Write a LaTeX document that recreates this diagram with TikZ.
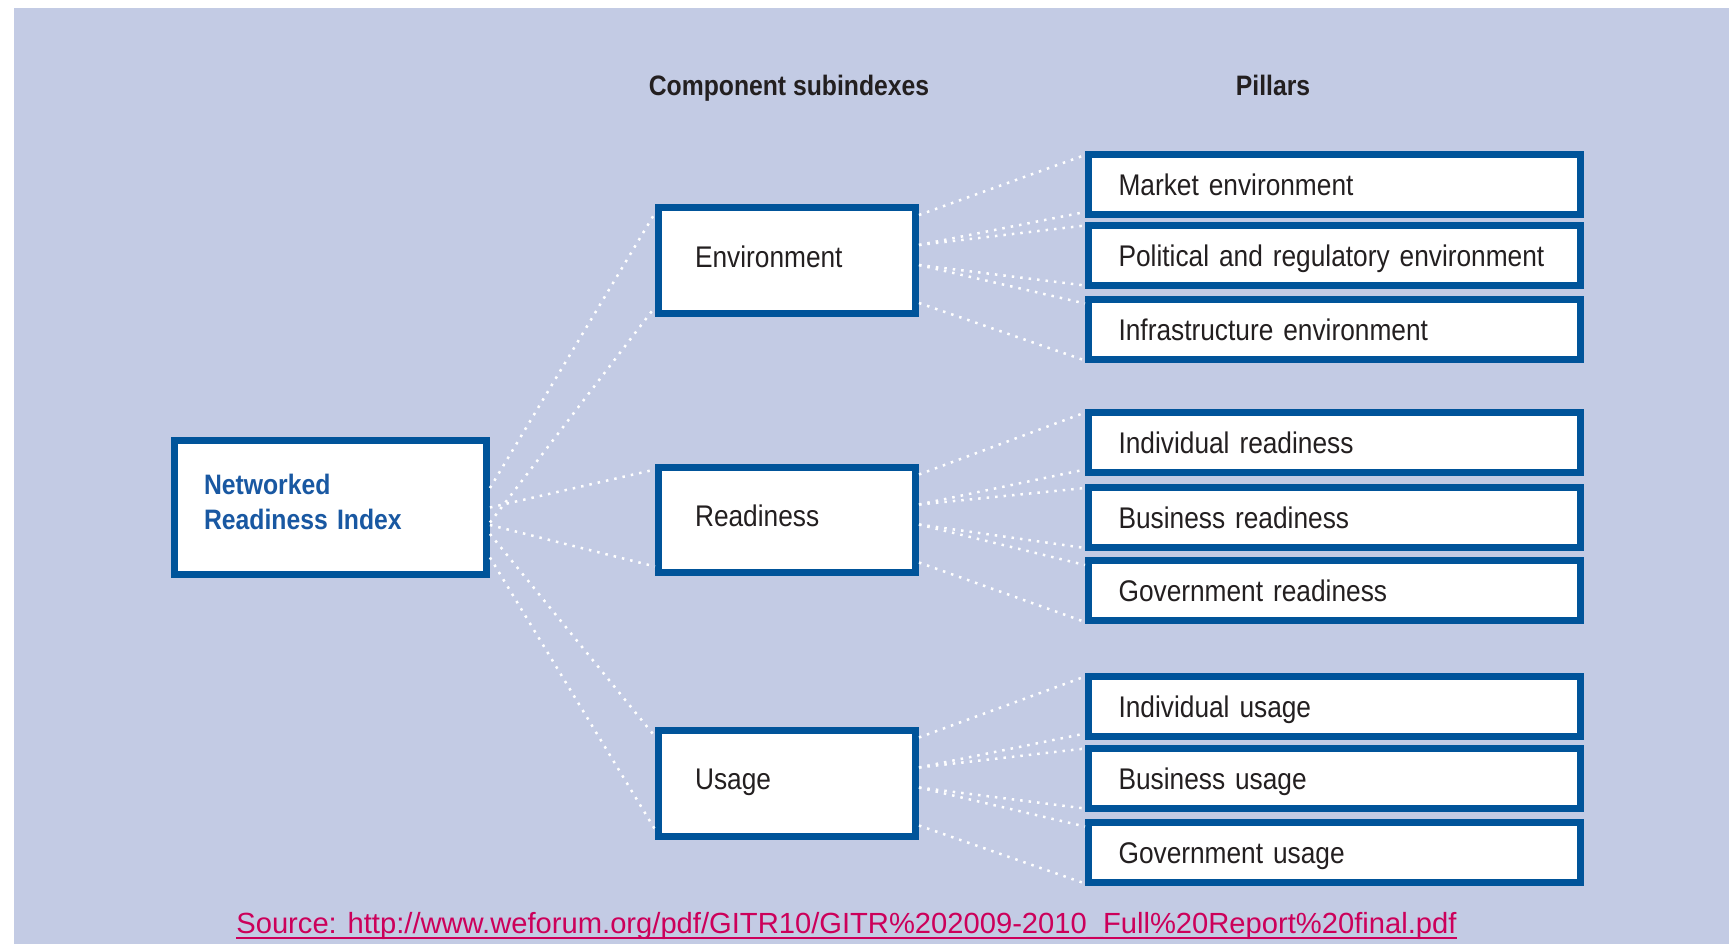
\documentclass[tikz,border=0pt]{standalone}
\usepackage{fontspec}
\setmainfont{Liberation Sans}
\newfontfamily\condfont[FakeStretch=0.88]{Liberation Sans}
\usepackage{tikz}
\definecolor{bgblue}{RGB}{195,203,228}
\definecolor{boxblue}{RGB}{0,84,154}
\definecolor{nriblue}{RGB}{25,88,162}
\definecolor{txt}{RGB}{35,31,32}
\definecolor{srcred}{RGB}{204,0,90}

\begin{document}
\begin{tikzpicture}[x=0.02cm,y=-0.02cm,
  box/.style={draw=boxblue, line width=0.14cm, fill=white, rectangle, align=left, text=txt,
    font=\condfont\fontsize{17}{20}\selectfont},
  pil/.style={box, minimum height=1.2cm, text width=8.64cm, inner xsep=0.6cm,
    text height=0.44cm, text depth=0cm},
  sub/.style={box, minimum height=2.12cm, text width=3.68cm, inner xsep=0.73cm,
    text height=0.42cm, text depth=0.16cm},
  head/.style={anchor=base, text=txt, font=\condfont\bfseries\fontsize{16}{19}\selectfont},
  dots/.style={white, line width=0.05cm, dash pattern=on 0.05cm off 0.12cm}]
\useasboundingbox (0,0) rectangle (1729,944);
\fill[bgblue] (14,8) rectangle (1729,944);

% column titles
\node[head] (hsub) at (789,95) {Component subindexes};
\node[head] (hpil) at (1273,95) {Pillars};

% index and subindexes
\node[box, minimum height=2.68cm, text width=5.06cm, inner xsep=0.59cm, text=nriblue, text depth=0.94cm,
  font=\condfont\bfseries\fontsize{16}{19.9}\selectfont] (nri) at (330.5,507.5) {Networked\\Readiness Index};
\node[sub] (env) at (787,260.5) {Environment};
\node[sub] (rdy) at (787,520) {Readiness};
\node[sub] (use) at (787,783) {Usage};

% pillars
\node[pil] (p1) at (1334.5,184.5) {Market environment};
\node[pil] (p2) at (1334.5,255) {Political and regulatory environment};
\node[pil] (p3) at (1334.5,329) {Infrastructure environment};
\node[pil] (p4) at (1334.5,442) {Individual readiness};
\node[pil] (p5) at (1334.5,517.5) {Business readiness};
\node[pil] (p6) at (1334.5,590.5) {Government readiness};
\node[pil] (p7) at (1334.5,706) {Individual usage};
\node[pil] (p8) at (1334.5,778) {Business usage};
\node[pil] (p9) at (1334.5,852) {Government usage};

% index to subindexes
\draw[dots] ([yshift=0.39cm] nri.east) -- ([yshift=-0.18cm] env.north west);
\draw[dots] ([yshift=-0.3cm] nri.east) -- ([yshift=0.2cm] env.south west);
\draw[dots] (nri.east) -- ([yshift=-0.12cm] rdy.north west);
\draw[dots] ([yshift=-0.35cm] nri.east) -- ([yshift=0.2cm] rdy.south west);
\draw[dots] ([yshift=-0.53cm] nri.east) -- ([yshift=-0.2cm] use.north west);
\draw[dots] ([yshift=-1.0cm] nri.east) -- ([yshift=0.2cm] use.south west);

% environment to pillars
\draw[dots] ([yshift=0.91cm] env.east) -- ([yshift=-0.08cm] p1.north west);
\draw[dots] ([yshift=0.31cm] env.east) -- ([yshift=0.12cm] p1.south west);
\draw[dots] ([yshift=0.31cm] env.east) -- ([yshift=-0.08cm] p2.north west);
\draw[dots] ([yshift=-0.09cm] env.east) -- ([yshift=0.06cm] p2.south west);
\draw[dots] ([yshift=-0.09cm] env.east) -- ([yshift=-0.16cm] p3.north west);
\draw[dots] ([yshift=-0.85cm] env.east) -- ([yshift=0.04cm] p3.south west);

% readiness to pillars
\draw[dots] ([yshift=0.91cm] rdy.east) -- ([yshift=-0.08cm] p4.north west);
\draw[dots] ([yshift=0.31cm] rdy.east) -- ([yshift=0.12cm] p4.south west);
\draw[dots] ([yshift=0.31cm] rdy.east) -- ([yshift=-0.08cm] p5.north west);
\draw[dots] ([yshift=-0.09cm] rdy.east) -- ([yshift=0.06cm] p5.south west);
\draw[dots] ([yshift=-0.09cm] rdy.east) -- ([yshift=-0.16cm] p6.north west);
\draw[dots] ([yshift=-0.85cm] rdy.east) -- ([yshift=0.04cm] p6.south west);

% usage to pillars
\draw[dots] ([yshift=0.91cm] use.east) -- ([yshift=-0.08cm] p7.north west);
\draw[dots] ([yshift=0.31cm] use.east) -- ([yshift=0.12cm] p7.south west);
\draw[dots] ([yshift=0.31cm] use.east) -- ([yshift=-0.08cm] p8.north west);
\draw[dots] ([yshift=-0.09cm] use.east) -- ([yshift=0.06cm] p8.south west);
\draw[dots] ([yshift=-0.09cm] use.east) -- ([yshift=-0.16cm] p9.north west);
\draw[dots] ([yshift=-0.85cm] use.east) -- ([yshift=0.04cm] p9.south west);

% source line
\node[anchor=base west, inner sep=0, text=srcred, font=\fontsize{16.6}{19}\selectfont] (src) at (236,933)
  {Source: http://www.weforum.org/pdf/GITR10/GITR\%202009-2010\_Full\%20Report\%20final.pdf};
\draw[srcred, line width=0.04cm] ([yshift=-0.1cm] src.base west) -- ([yshift=-0.1cm] src.base east);
\end{tikzpicture}
\end{document}
